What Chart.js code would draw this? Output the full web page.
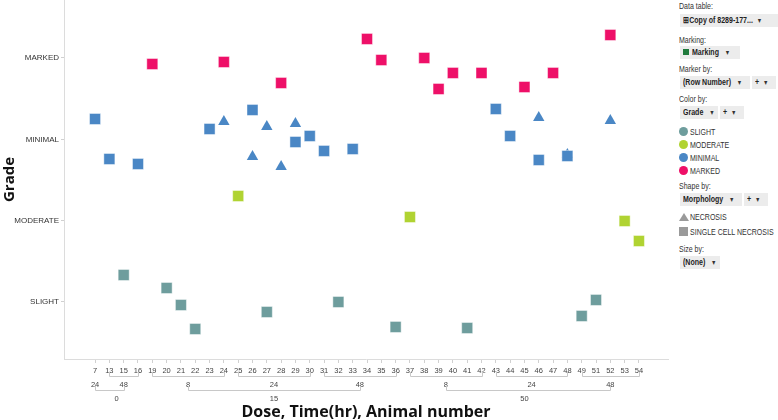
<!DOCTYPE html>
<html>
<head>
<meta charset="utf-8">
<script src="https://cdn.jsdelivr.net/npm/chart.js@4.4.1/dist/chart.umd.min.js"></script>
<style>
  html, body { margin:0; padding:0; background:#fff; }
  #wrap { position:relative; width:778px; height:420px; overflow:hidden; font-family:'Liberation Sans',Arial,sans-serif; }
  #chartBox { position:absolute; left:0; top:0; width:670px; height:420px; }
  .sx { display:inline-block; transform:scaleX(0.78); transform-origin:0 50%; white-space:nowrap; }
  .lg { position:absolute; left:679px; font-size:9px; color:#333; white-space:nowrap; line-height:12px; }
  .box { position:absolute; height:13px; background:#ececec; font-size:9px; font-weight:bold; color:#222; line-height:13px; white-space:nowrap; overflow:hidden; padding-left:3px; box-sizing:border-box; }
  .arr { font-size:7px; font-weight:normal; color:#333; }
  .dot { position:absolute; left:679px; width:9px; height:9px; border-radius:50%; }
  .lbl { position:absolute; left:690px; font-size:9px; color:#333; white-space:nowrap; line-height:12px; }
</style>
</head>
<body>
<div id="wrap">
  <div id="chartBox"><canvas id="c" width="670" height="420"></canvas></div>

  <div class="lg" style="top:0px;"><span class="sx">Data table:</span></div>
  <div class="box" style="left:680px; top:14px; width:98px;"><span class="sx">&#8862;Copy of 8289-177... &nbsp;<span class="arr">&#9660;</span></span></div>
  <div class="lg" style="top:34px;"><span class="sx">Marking:</span></div>
  <div class="box" style="left:680px; top:46px; width:60px;"><span style="display:inline-block;width:6px;height:6px;background:#1f7a3c;margin-right:3px;"></span><span class="sx">Marking &nbsp;&nbsp;<span class="arr">&#9660;</span></span></div>
  <div class="lg" style="top:63px;"><span class="sx">Marker by:</span></div>
  <div class="box" style="left:680px; top:76px; width:70px;"><span class="sx">(Row Number) &nbsp;&nbsp;<span class="arr">&#9660;</span></span></div>
  <div class="box" style="left:752px; top:76px; width:24px;"><span class="sx">+ &nbsp;<span class="arr">&#9660;</span></span></div>
  <div class="lg" style="top:93px;"><span class="sx">Color by:</span></div>
  <div class="box" style="left:680px; top:106px; width:38px;"><span class="sx">Grade &nbsp;&nbsp;<span class="arr">&#9660;</span></span></div>
  <div class="box" style="left:720px; top:106px; width:24px;"><span class="sx">+ &nbsp;<span class="arr">&#9660;</span></span></div>

  <div id="colorLegend"></div>

  <div class="lg" style="top:180px;"><span class="sx">Shape by:</span></div>
  <div class="box" style="left:680px; top:193px; width:62px;"><span class="sx">Morphology &nbsp;&nbsp;<span class="arr">&#9660;</span></span></div>
  <div class="box" style="left:744px; top:193px; width:24px;"><span class="sx">+ &nbsp;<span class="arr">&#9660;</span></span></div>
  <div style="position:absolute; left:679px; top:213px; width:0; height:0; border-left:5px solid transparent; border-right:5px solid transparent; border-bottom:8px solid #9a9a9a;"></div>
  <div class="lbl" style="top:211px;"><span class="sx">NECROSIS</span></div>
  <div style="position:absolute; left:679px; top:227px; width:9px; height:9px; background:#9a9a9a;"></div>
  <div class="lbl" style="top:226px;"><span class="sx">SINGLE CELL NECROSIS</span></div>
  <div class="lg" style="top:243px;"><span class="sx">Size by:</span></div>
  <div class="box" style="left:680px; top:256px; width:40px;"><span class="sx">(None) &nbsp;&nbsp;<span class="arr">&#9660;</span></span></div>
</div>

<script>
// ---- categories (x axis, three levels) ----
const animals = ['7','13','15','16','19','20','21','22','23','24','25','26','27','28','29','30','31','32','33','34','35','36','37','38','39','40','41','42','43','44','45','46','47','48','49','51','52','53','54'];
const timeLabels     = ['24','48','8','24','48','8','24','48'];
const timeGroupStart = ['7','13','19','25','31','37','43','49'];
const timeGroupEnd   = ['7','16','24','30','36','42','48','54'];
const doseLabels     = ['0','15','50'];
const doseGroupStart = ['7','19','37'];
const doseGroupEnd   = ['16','36','54'];
const doseTimeFirst  = [0, 2, 5];
const doseTimeLast   = [1, 4, 7];

// ---- y categories ----
const gradeLabels = ['SLIGHT','MODERATE','MINIMAL','MARKED'];   // values 1..4
const gradeColors = ['#6e9d9d','#b0d332','#4a87c5','#ee1068'];

// ---- series (animal, jittered grade position) ----
const slightAnimals   = ['15','20','21','22','27','32','36','41','49','51'];
const slightValues    = [1.332,1.172,0.963,0.668,0.877,1.000,0.693,0.680,0.828,1.025];
const moderateAnimals = ['25','37','53','54'];
const moderateValues  = [2.303,2.045,1.996,1.750];
const minimalAnimals  = ['7','13','16','23','26','29','30','31','33','43','44','46','48'];
const minimalValues   = [3.250,2.758,2.697,3.127,3.361,2.967,3.041,2.857,2.881,3.373,3.041,2.746,2.795];
const markedAnimals   = ['19','24','28','34','35','38','39','40','42','45','47','52'];
const markedValues    = [3.926,3.951,3.693,4.234,3.975,4.000,3.619,3.816,3.816,3.643,3.816,4.283];
const necrosisAnimals = ['24','26','27','28','29','46','48','52'];
const necrosisValues  = [3.218,2.787,3.156,2.664,3.193,3.267,2.812,3.230];

// color legend
const cl = document.getElementById('colorLegend');
const legendTops = [126,139,152,165];
gradeLabels.forEach((g,i)=>{
  const d = document.createElement('div'); d.className='dot';
  d.style.top = (legendTops[i]+1)+'px'; d.style.background = gradeColors[i]; cl.appendChild(d);
  const t = document.createElement('div'); t.className='lbl';
  t.style.top = legendTops[i]+'px';
  const s = document.createElement('span'); s.className='sx'; s.textContent = g; t.appendChild(s);
  cl.appendChild(t);
});

function pts(an, vals){ return an.map((a,i)=>({x: animals.indexOf(a), y: vals[i]})); }
function sq(label, an, vals, color){
  return { label, data: pts(an, vals), pointStyle:'rect', pointRadius:7.8, backgroundColor:color,
           borderColor:'rgba(255,255,255,0.45)', borderWidth:1, showLine:false };
}

const TICKFONT = "'Liberation Sans',Arial,sans-serif";

const groupPlugin = {
  id:'groups',
  afterDraw(chart){
    const ctx = chart.ctx, xs = chart.scales.x;
    const px = a => xs.getPixelForValue(animals.indexOf(a));
    ctx.save();
    ctx.strokeStyle = '#c8c8c8'; ctx.lineWidth = 1;
    ctx.fillStyle = '#444'; ctx.font = "7.5px " + TICKFONT;
    ctx.textAlign = 'center'; ctx.textBaseline = 'middle';
    const timeX = [];
    timeLabels.forEach((t,i)=>{
      const x0 = px(timeGroupStart[i]), x1 = px(timeGroupEnd[i]);
      timeX.push((x0+x1)/2);
      if (x1 > x0) {
        ctx.beginPath();
        ctx.moveTo(Math.round(x0)+0.5, 372); ctx.lineTo(Math.round(x0)+0.5, 376.5);
        ctx.lineTo(Math.round(x1)+0.5, 376.5); ctx.lineTo(Math.round(x1)+0.5, 372);
        ctx.stroke();
      }
      ctx.fillText(t, (x0+x1)/2, 385);
    });
    doseLabels.forEach((d,i)=>{
      const x0 = timeX[doseTimeFirst[i]], x1 = timeX[doseTimeLast[i]];
      ctx.beginPath();
      ctx.moveTo(Math.round(x0)+0.5, 386); ctx.lineTo(Math.round(x0)+0.5, 390.5);
      ctx.lineTo(Math.round(x1)+0.5, 390.5); ctx.lineTo(Math.round(x1)+0.5, 386);
      ctx.stroke();
      const c = (px(doseGroupStart[i]) + px(doseGroupEnd[i]))/2;
      ctx.fillText(d, c, 399);
    });
    ctx.restore();
  }
};

new Chart(document.getElementById('c'), {
  type:'scatter',
  data:{ datasets:[
    sq('SLIGHT', slightAnimals, slightValues, gradeColors[0]),
    sq('MODERATE', moderateAnimals, moderateValues, gradeColors[1]),
    sq('MINIMAL', minimalAnimals, minimalValues, gradeColors[2]),
    sq('MARKED', markedAnimals, markedValues, gradeColors[3]),
    { label:'NECROSIS', data: pts(necrosisAnimals, necrosisValues), pointStyle:'triangle', pointRadius:6.6,
      backgroundColor: gradeColors[2], borderColor: gradeColors[2], borderWidth:0, showLine:false }
  ]},
  options:{
    responsive:false, animation:false, events:[],
    layout:{ autoPadding:false, padding:{ left:0, right:2, top:0, bottom:0 } },
    plugins:{ legend:{display:false}, tooltip:{enabled:false} },
    scales:{
      x:{
        type:'linear', min:-2.17, max:40.03,
        afterBuildTicks: s => { s.ticks = animals.map((_,i)=>({value:i})); },
        afterFit: s => { s.height = 61; s.paddingLeft = 0; s.paddingRight = 0; },
        ticks:{ autoSkip:false, maxRotation:0, padding:3, color:'#444',
                font:{ size:7.5, family:TICKFONT },
                callback: v => animals[v] },
        grid:{ drawOnChartArea:false, drawTicks:true, tickLength:4, color:'#d0d0d0' },
        border:{ display:true, color:'#dcdcdc' },
        title:{ display:true, text:'Dose, Time(hr), Animal number', color:'#111',
                font:{ size:16, weight:'bold', family:"'Open Sans','Liberation Sans',Arial,sans-serif" },
                padding:{ top:0, bottom:-2 } }
      },
      y:{
        type:'linear', min:0.299, max:4.713,
        afterBuildTicks: s => { s.ticks = [1,2,3,4].map(v=>({value:v})); },
        afterFit: s => { s.width = 64; s.paddingTop = 0; s.paddingBottom = 0; },
        ticks:{ padding:2, color:'#333', font:{ size:8, family:TICKFONT },
                callback: v => gradeLabels[v-1] },
        grid:{ drawOnChartArea:false, drawTicks:true, tickLength:3, color:'#d0d0d0' },
        border:{ display:true, color:'#dcdcdc' },
        title:{ display:true, text:'Grade', color:'#111',
                font:{ size:15, weight:'bold', family:"'Open Sans','Liberation Sans',Arial,sans-serif" },
                padding:{ top:1, bottom:0 } }
      }
    }
  },
  plugins:[groupPlugin]
});
</script>
</body>
</html>
